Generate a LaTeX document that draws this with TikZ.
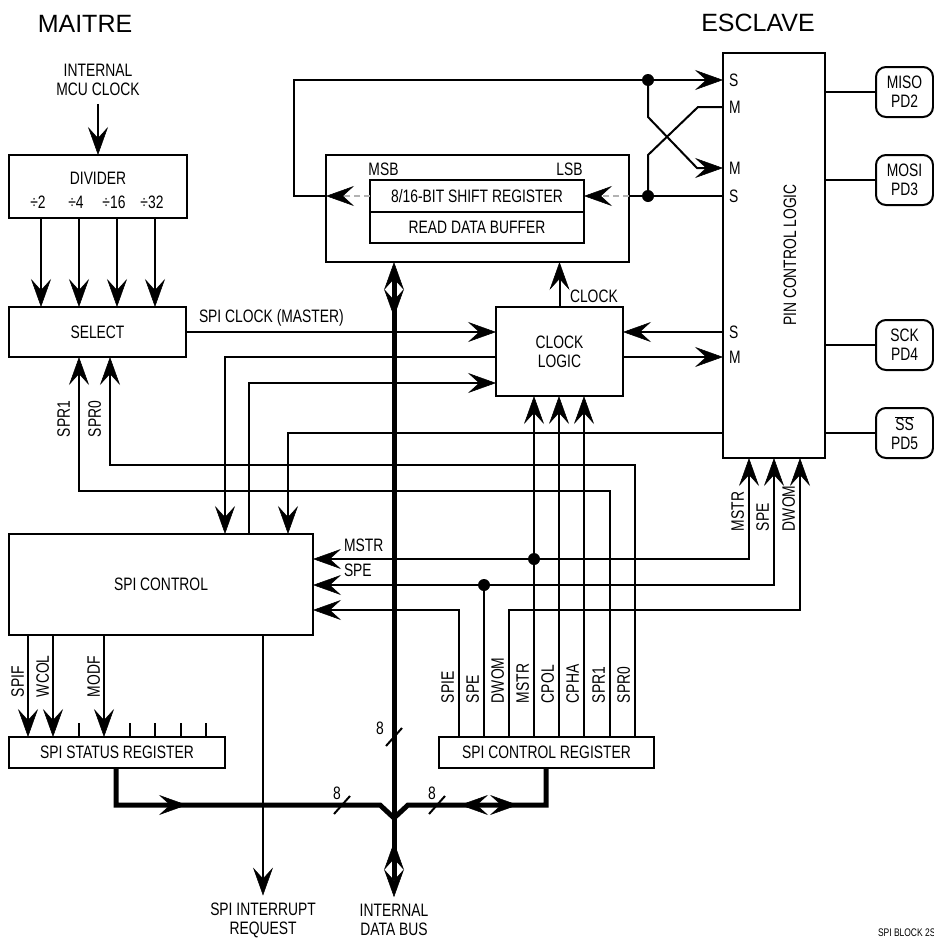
\documentclass[tikz,border=0pt]{standalone}
\usepackage{fontspec}
\setmainfont{Liberation Sans}
\newfontfamily\narrowsf[FakeStretch=0.77]{Liberation Sans}
\usetikzlibrary{arrows.meta,decorations.markings,calc}
\tikzset{hd/.tip={Stealth[length=28pt,width=20pt,inset=11pt,line width=0.5pt]}}

\begin{document}
\begin{tikzpicture}[x=1pt,y=-1pt,line width=2pt,>=hd,
  box/.style={draw,inner sep=0pt,outer sep=0pt,font=\fontsize{18}{19}\narrowsf,align=center},
  pd/.style={box,rounded corners=10pt,minimum width=57pt,minimum height=50pt},
  lbl/.style={font=\fontsize{18}{19}\narrowsf,inner sep=1pt,align=center},
  vlbl/.style={lbl,rotate=90,anchor=south west},
  ttl/.style={font=\fontsize{25}{27}\selectfont},
  dot/.style={circle,fill,inner sep=0pt,minimum size=12pt},
  bus/.style={line width=5pt},
  dsh/.style={draw=gray!60,dash pattern=on 6pt off 4pt,line width=1.3pt},
  fwd/.style={postaction={decorate,decoration={markings,
    mark=at position #1 with {\arrow{hd}}}}},
  rev/.style={postaction={decorate,decoration={markings,
    mark=at position #1 with {\arrowreversed{hd}}}}}
]
\path[use as bounding box,fill=white] (0,0) rectangle (934,940);
\node[ttl] (maitre) at (85,24) {MAITRE};
\node[ttl] (esclave) at (758,23) {ESCLAVE};
\node[lbl] (mcu) at (98,80) {INTERNAL\\MCU CLOCK};
% master side blocks
\node[box,minimum width=178pt,minimum height=63pt] (div) at (98,186.5) {};
\node[lbl] at (98,178) {DIVIDER};
\node[box,minimum width=177pt,minimum height=50pt] (sel) at (97.5,332) {SELECT};
\node[box,minimum width=304pt,minimum height=101pt] (ctl) at (161,584.5) {SPI CONTROL};
\node[box,minimum width=216pt,minimum height=31pt] (stat) at (117,752.5) {SPI STATUS REGISTER};
\node[box,minimum width=215pt,minimum height=31pt] (creg) at (546.5,752.5) {SPI CONTROL REGISTER};
\node[box,minimum width=127pt,minimum height=89pt] (clk) at (559.5,351.5) {CLOCK\\LOGIC};
% shift register
\node[box,minimum width=303pt,minimum height=107pt] (shbox) at (477.5,208.5) {};
\node[box,minimum width=214pt,minimum height=32pt] (shreg) at (477,196) {8/16-BIT SHIFT REGISTER};
\node[box,minimum width=214pt,minimum height=31pt,anchor=north] (rdbuf) at (shreg.south) {READ DATA BUFFER};
\node[lbl] at (383.5,169.5) {MSB};
\node[lbl] at (569.5,169.5) {LSB};
% slave side
\node[box,minimum width=102pt,minimum height=405pt] (pin) at (774,255.5) {};
\node[lbl,rotate=90] at (790,255) {PIN CONTROL LOGIC};
\node[pd] (miso) at (904.5,92) {MISO\\PD2};
\node[pd] (mosi) at (904.5,180) {MOSI\\PD3};
\node[pd] (sck) at (904.5,345) {SCK\\PD4};
\node[pd] (ss) at (904.5,433) {$\overline{\mbox{SS}}$\\PD5};
\foreach \p in {miso,mosi,sck,ss}
  \draw (pin.east |- \p) -- (\p.west);
\foreach \y/\t in {80/S,107/M,168/M,196/S,332/S,357/M}
  \node[lbl,anchor=west] at (727,\y) {\t};
\node[lbl] (irq) at (263,920) {SPI INTERRUPT\\REQUEST};
\node[lbl] (ibus) at (394,920) {INTERNAL\\DATA BUS};

% divider and select
\draw[->,shorten <=6pt] (mcu.south) -- (div.north);
\foreach \n/\x/\t in {a/41/2,b/79/4,c/117/16,d/155/32} {
  \node[lbl] (dv\n) at (\x-3,202) {÷\t};
  \draw[->] (div.south -| \x,0) -- (sel.north -| \x,0);
}
\draw[->] (sel.east) -- (sel.east -| clk.west);
\node[lbl,anchor=west] at (197,318) {SPI CLOCK (MASTER)};
\draw[->] (clk.west |- 0,357) -| (ctl.north -| 225,0);
\draw[->] (ctl.north -| 249,0) |- (clk.west |- 0,383);
\draw[->] (pin.west |- ss) -| (ctl.north -| 288,0);
\draw[->] (pin.west |- 0,332) -- (clk.east |- 0,332);
\draw[->] (clk.east |- 0,357) -- (pin.west |- 0,357);
\draw[->] (clk.north) -- (clk.north |- shbox.south);
\node[lbl,anchor=west] at (568,296) {CLOCK};

% shift register in/out and cross-over
\node[dot] (dtop) at (648,80) {};
\node[dot] (dbot) at (648,0 |- shreg) {};
\draw[dsh,-{Stealth[length=28pt,width=20pt,inset=11pt,line width=0.5pt,color=black]}]
  (shreg.west) -- (shreg.west -| shbox.west);
\draw[->] (shreg.west -| shbox.west) -- (294,0 |- shreg.west) |- (pin.west |- dtop);
\draw (pin.west |- shreg) -- (shreg.east -| shbox.east);
\draw[dsh,-{Stealth[length=28pt,width=20pt,inset=11pt,line width=0.5pt,color=black]}]
  (shreg.east -| shbox.east) -- (shreg.east);
\draw[->] (dtop.center) -- ++(0,37) -- ++(49,51) -- (pin.west |- 0,168);
\draw (pin.west |- 0,107) -- ++(-25,0) -- ++(-50,48) -- (dbot.center);

% data bus
\coordinate (jn) at (394,818);
\draw[bus,hd-hd,fwd=55pt,rev=580pt,shorten >=5pt] (shbox.south -| ibus) -- (ibus.north);
\draw[bus,fwd=108pt] (stat.south -| 116,0) |- (380,805) -- (jn);
\draw[bus,rev=65pt,fwd=123pt] (creg.south -| 546,0) |- (408,805) -- (jn);
\foreach \x/\y/\lx/\ly in {394/737/380/728,342/805/337/793,437/805/432/793} {
  \draw (\x-8,\y+9) -- (\x+8,\y-9);
  \node[lbl] at (\lx,\ly) {8};
}
\draw[->,shorten >=5pt] (ctl.south -| irq) -- (irq.north);

% status register flags
\foreach \x/\t in {28/SPIF,53/WCOL,104/MODF} {
  \draw[->] (ctl.south -| \x,0) -- (stat.north -| \x,0);
  \node[vlbl] at (\x-2,699) {\t};
}
\foreach \x in {79,130,155,181,206}
  \draw (stat.north -| \x,0) -- ++(0,-14);

% control register bits
\foreach \n/\x/\t in {1/459/SPIE,2/484/SPE,3/509/DWOM,4/534/MSTR,
                      5/559/CPOL,6/584/CPHA,7/610/SPR1,8/635/SPR0} {
  \coordinate (b\n) at (\x,0 |- creg.north);
  \node[vlbl] at (\x-3,705) {\t};
}
\draw[->] (b1) |- (ctl.east |- 0,610);
\node[dot] (jspe) at (b2 |- 0,585) {};
\draw (b2) -- (jspe.center);
\draw[->] (jspe.center) -- (ctl.east |- jspe);
\draw[->] (jspe.center) -| (pin.south -| 774,0);
\draw[->] (b3) -- (b3 |- 0,610) -| (pin.south -| 800,0);
\node[dot] (jmstr) at (b4 |- 0,559) {};
\draw[->] (b4) -- (b4 |- clk.south);
\draw[->] (jmstr.center) -- (ctl.east |- jmstr);
\draw[->] (jmstr.center) -| (pin.south -| 749,0);
\draw[->] (b5) -- (b5 |- clk.south);
\draw[->] (b6) -- (b6 |- clk.south);
\draw[->] (b7) -- (b7 |- 0,491) -| (sel.south -| 79,0);
\draw[->] (b8) -- (b8 |- 0,465) -| (sel.south -| 110,0);
\node[lbl,anchor=south west] at (342,554) {MSTR};
\node[lbl,anchor=south west] at (342,579) {SPE};
\node[vlbl] at (72,439) {SPR1};
\node[vlbl] at (103,439) {SPR0};
\node[vlbl] at (746,533) {MSTR};
\node[vlbl] at (771,533) {SPE};
\node[vlbl] at (797,533) {DWOM};
\node[font=\fontsize{11}{12}\narrowsf,anchor=west,inner sep=0pt] at (877,933) {SPI BLOCK 2S};
\end{tikzpicture}
\end{document}
